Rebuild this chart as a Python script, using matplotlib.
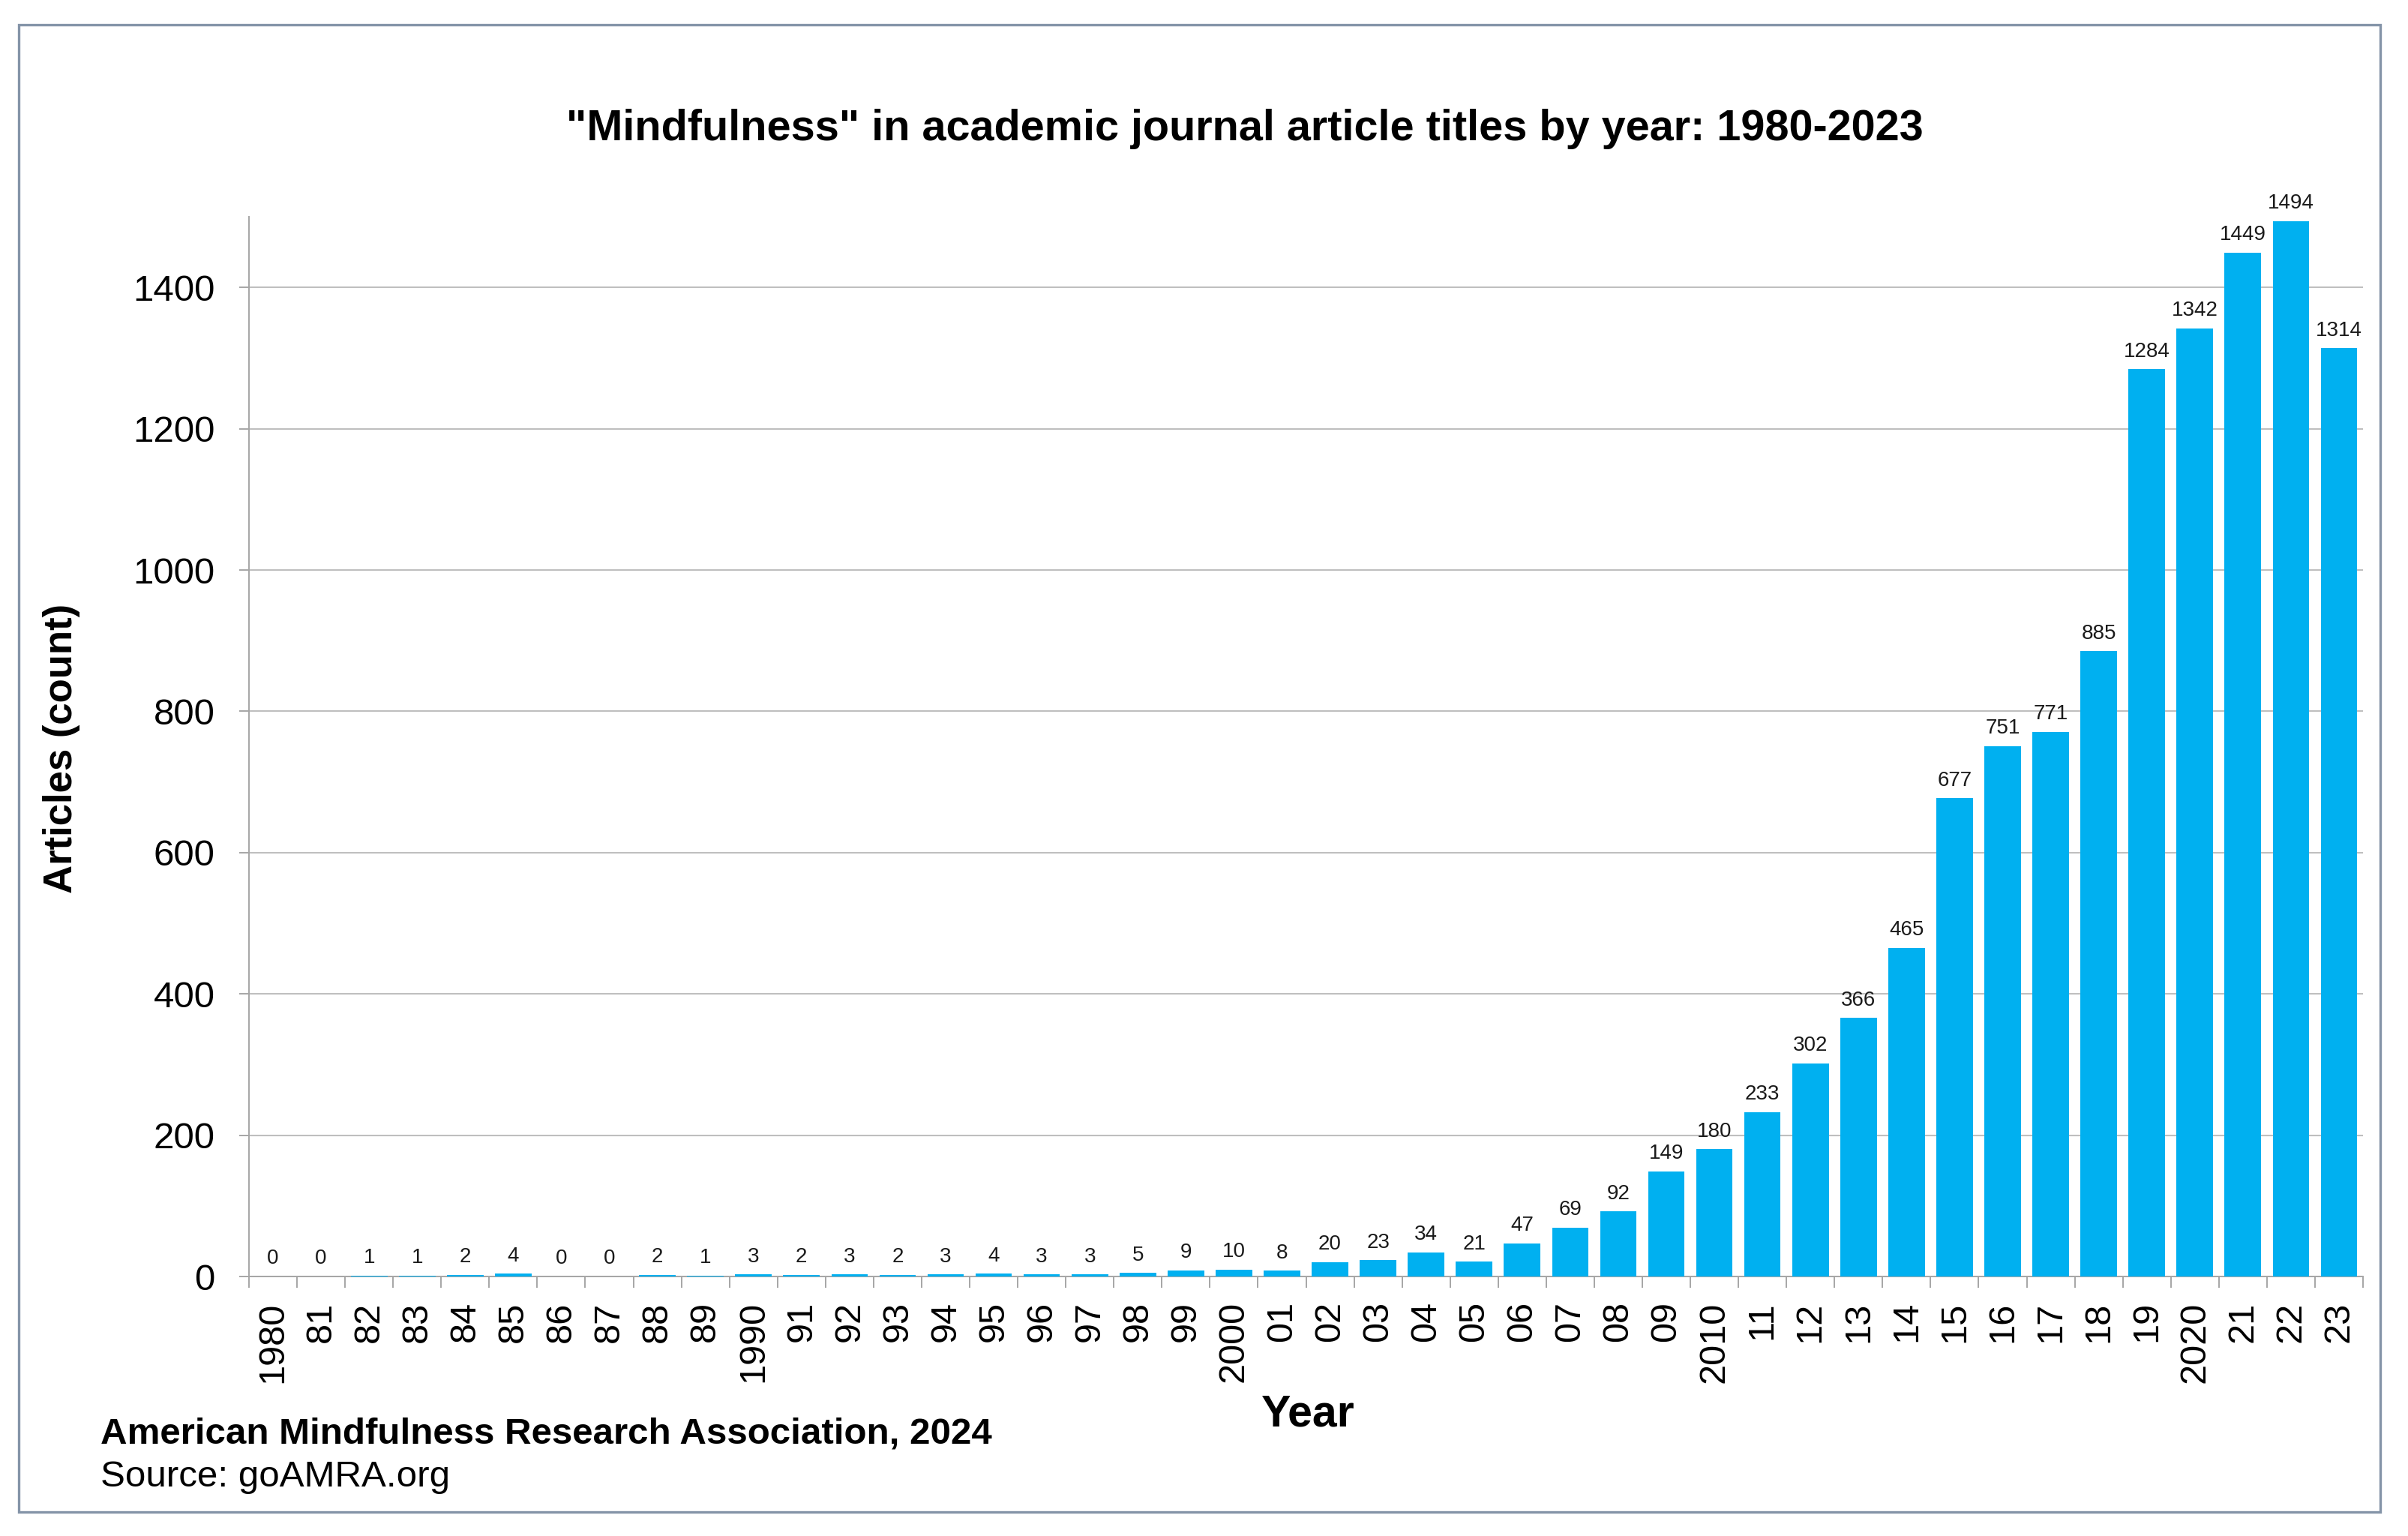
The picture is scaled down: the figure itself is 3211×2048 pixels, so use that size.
import matplotlib
matplotlib.use("Agg")
import matplotlib.pyplot as plt
from matplotlib.patches import Rectangle
from matplotlib.ticker import FixedLocator

plt.rcParams['font.family'] = ['Liberation Sans', 'DejaVu Sans']

# ---- data ----
years = list(range(1980, 2024))
tick_labels = ["1980", "81", "82", "83", "84", "85", "86", "87", "88", "89",
               "1990", "91", "92", "93", "94", "95", "96", "97", "98", "99",
               "2000", "01", "02", "03", "04", "05", "06", "07", "08", "09",
               "2010", "11", "12", "13", "14", "15", "16", "17", "18", "19",
               "2020", "21", "22", "23"]
articles = [0, 0, 1, 1, 2, 4, 0, 0, 2, 1,
            3, 2, 3, 2, 3, 4, 3, 3, 5, 9,
            10, 8, 20, 23, 34, 21, 47, 69, 92, 149,
            180, 233, 302, 366, 465, 677, 751, 771, 885, 1284,
            1342, 1449, 1494, 1314]
y_ticks = [0, 200, 400, 600, 800, 1000, 1200, 1400]

title = '"Mindfulness" in academic journal article titles by year: 1980-2023'
ylabel = "Articles (count)"
xlabel = "Year"
footer1 = "American Mindfulness Research Association, 2024"
footer2 = "Source: goAMRA.org"

W, H = 3211, 2048
fig = plt.figure(figsize=(W / 100, H / 100), dpi=100)
fig.patch.set_facecolor("white")

# outer frame
fig.patches.append(Rectangle((25 / W, 1 - 2016 / H), (3174 - 25) / W, (2016 - 33) / H,
                             transform=fig.transFigure, fill=False,
                             edgecolor="#8494a8", linewidth=2.4, zorder=0))

ax = fig.add_axes([332 / W, 1 - 1702 / H, (3151 - 332) / W, (1702 - 289) / H])
x = list(range(len(years)))
bars = ax.bar(x, articles, width=0.76, color="#00B0F0", zorder=3)

ax.set_xlim(-0.5, len(years) - 0.5)
ax.set_ylim(0, 1500)

ax.set_yticks(y_ticks)
ax.set_yticklabels([str(v) for v in y_ticks], fontsize=35.5)
ax.tick_params(axis="y", length=9.5, width=1.4, color="#a6a6a6", pad=23)

ax.set_xticks(x)
ax.set_xticklabels(tick_labels, rotation=90, fontsize=35, va="top", ha="center")
ax.tick_params(axis="x", which="major", length=0, pad=24)
ax.xaxis.set_minor_locator(FixedLocator([i - 0.5 for i in range(len(years) + 1)]))
ax.tick_params(axis="x", which="minor", length=11, width=1.4, color="#a6a6a6")

ax.grid(axis="y", color="#bfbfbf", linewidth=1.5, zorder=0)
ax.set_axisbelow(True)
for s in ["top", "right"]:
    ax.spines[s].set_visible(False)
for s in ["left", "bottom"]:
    ax.spines[s].set_color("#a6a6a6")
    ax.spines[s].set_linewidth(1.4)

for xi, v in zip(x, articles):
    ax.annotate(str(v), (xi, v), xytext=(0, 12), textcoords="offset points",
                ha="center", va="baseline", fontsize=20, color="#1a1a1a")

fig.text(1660 / W, 1 - 172 / H, title, ha="center", va="center",
         fontsize=41.5, fontweight="bold")
fig.text(82 / W, 1 - 998 / H, ylabel, ha="center", va="center", rotation=90,
         fontsize=38, fontweight="bold")
fig.text(1744 / W, 1 - 1886 / H, xlabel, ha="center", va="center",
         fontsize=42.5, fontweight="bold")
fig.text(134 / W, 1 - 1912 / H, footer1, ha="left", va="center",
         fontsize=35.5, fontweight="bold")
fig.text(134 / W, 1 - 1970 / H, footer2, ha="left", va="center", fontsize=35.5)

fig.savefig("out.png", dpi=100, facecolor="white")
